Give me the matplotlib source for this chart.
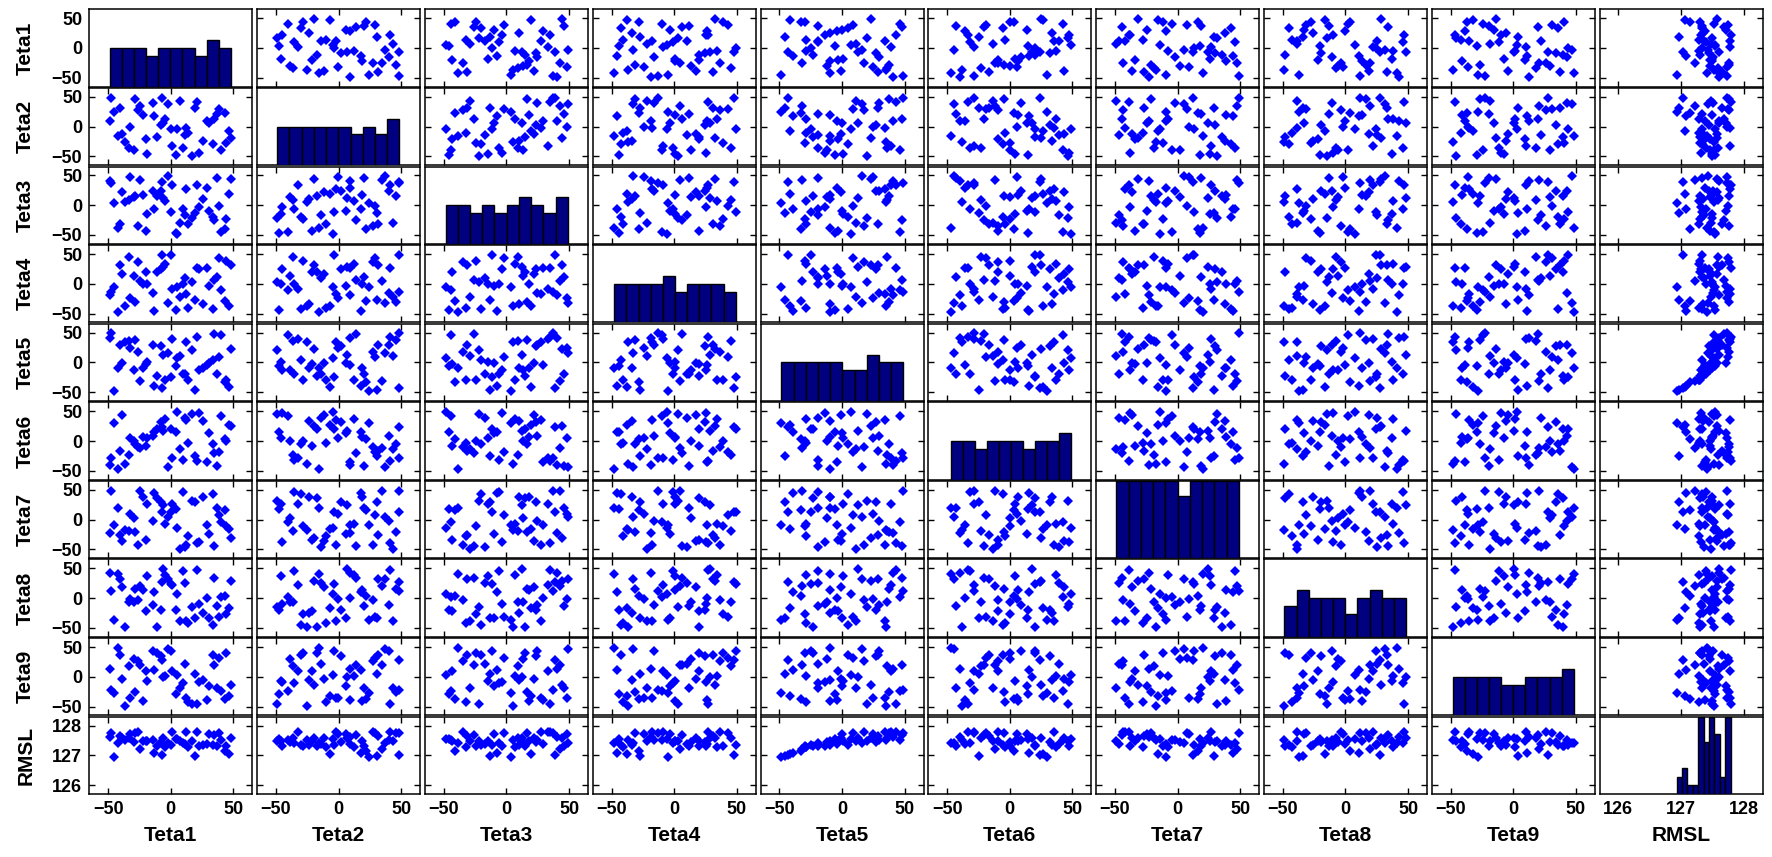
import matplotlib
matplotlib.use("Agg")
import matplotlib.pyplot as plt


names = ["Teta1", "Teta2", "Teta3", "Teta4", "Teta5",
         "Teta6", "Teta7", "Teta8", "Teta9", "RMSL"]

# samples listed in increasing Teta1 order
teta1 = [-48.7, -47.6, -45.0, -42.4, -40.8, -38.9, -36.3, -33.7, -32.4, -29.7,
         -28.4, -25.8, -24.5, -22.4, -20.0, -18.7, -14.4, -13.4, -11.3, -8.2,
         -7.4, -6.6, -4.7, -2.6, -0.2, 1.3, 3.9, 5.0, 7.1, 9.5,
         11.0, 12.4, 13.7, 16.6, 19.2, 21.1, 22.1, 25.5, 28.8, 30.3,
         33.4, 34.7, 36.6, 38.2, 40.0, 43.4, 44.4, 46.6, 47.9]
teta2 = [8.9, 48.5, 24.4, -15.6, 31.7, -11.7, -25.6, -36.7, -0.5, -38.9,
         45.6, 27.8, 34.4, 18.9, -21.1, -45.6, 40.0, 17.5, -17.0, 2.2,
         47.8, 6.7, 12.2, 37.2, -3.3, -32.2, -47.8, -4.4, 43.3, -35.5,
         -14.4, -1.7, -10.0, -48.9, 30.5, 41.1, -45.0, -23.9, 9.4, 5.6,
         -29.8, 13.5, 20.5, 29.0, -40.0, 22.2, -28.0, -7.2, -19.9]
teta3 = [40.0, 37.2, 3.9, -38.5, -31.1, 22.2, 5.6, 9.4, 48.0, 13.3,
         16.1, -35.0, 42.8, 17.8, -43.3, -14.4, 24.4, -7.2, 15.0, 23.5,
         39.0, 12.2, 6.7, 49.0, -11.1, 33.3, -46.1, -48.5, -29.2, -6.0,
         -16.7, 27.8, -32.2, -22.2, -12.8, 34.4, -3.3, 9.8, 29.3, -9.7,
         -20.0, -25.5, 45.6, -1.7, -44.5, -40.6, -24.0, 19.5, 44.0]
teta4 = [-18.9, -13.3, -5.0, -47.8, 31.1, 17.2, -36.7, 45.0, -24.4, 13.3,
         -31.1, 36.7, 4.4, 0.5, 19.5, 0.3, -16.1, -45.6, 19.8, 24.4,
         47.8, 28.3, 33.9, -32.8, 49.0, -9.3, -43.9, -6.0, -21.7, -1.1,
         10.0, -17.8, -41.1, 3.2, -27.2, 27.2, 25.6, -34.0, 26.0, -3.3,
         -42.5, 6.1, 11.7, 43.3, -10.0, -28.2, 39.0, -38.0, 32.2]
teta5 = [40.6, 49.0, -48.3, -9.4, 29.0, -1.1, 35.0, 36.1, 25.0, -12.2,
         37.8, 17.2, -31.7, -9.5, -2.8, 0.6, 29.3, -38.8, -23.3, 27.5,
         -42.8, 12.8, -29.0, 15.6, -25.0, 38.9, -5.5, 7.2, 11.5, -19.3,
         -19.4, 34.5, -28.9, 20.0, -45.6, 43.3, -13.5, -9.6, -4.0, -0.2,
         4.4, 48.0, -19.5, 8.5, 46.1, -32.8, -29.3, -41.5, 22.8]
teta6 = [-40.0, -28.3, 29.4, -47.2, -16.7, 43.3, -37.8, -23.3, 5.6, 0.0,
         -4.4, -9.4, -12.2, 6.5, -9.1, 4.5, 8.9, 15.6, 20.0, 32.2,
         23.9, 17.5, 36.7, -44.4, 20.2, -28.9, 14.5, 48.5, -13.3, -31.7,
         39.2, 35.0, -3.9, 46.1, -24.4, -33.3, 47.0, 34.0, -36.0, 13.9,
         -5.6, -20.6, -42.8, -18.7, 42.2, 3.3, 0.4, 26.7, 25.0]
teta7 = [-22.8, 48.8, -8.9, 20.0, -26.7, -36.7, -17.2, -18.9, 9.4, 2.2,
         -21.1, -43.3, 47.2, 38.3, -33.9, 25.6, -2.2, 43.9, 35.6, 30.0,
         12.2, 24.5, -7.8, 5.0, 13.3, 26.5, 17.8, -14.4, -48.9, 46.0,
         -46.7, -42.2, -27.5, 31.1, 29.0, -38.9, -37.8, 37.5, -9.5, -24.4,
         42.5, -44.5, 18.9, 7.8, -4.4, 16.1, -11.5, -15.5, -31.5]
teta8 = [42.8, 11.7, -36.7, 41.1, 32.8, 18.9, -48.6, -7.2, -1.7, -6.1,
         16.1, -3.5, 20.0, 13.3, -21.7, 37.2, -10.6, 10.6, -47.8, -19.7,
         27.2, 48.3, 38.3, 31.7, 24.4, 22.0, -20.0, 7.8, -38.3, 46.1,
         25.5, -38.7, -42.2, -14.4, -33.9, 47.0, -10.0, -25.6, -0.4, -32.8,
         -45.0, 33.9, -12.8, -31.1, 2.0, 3.9, -27.2, -16.1, 28.7]
teta9 = [12.8, -22.2, -27.8, 48.3, 37.2, -3.9, -48.3, 18.3, -36.1, 29.4,
         -26.1, 26.1, 20.6, -40.6, 9.8, -7.2, 42.8, 11.1, 39.4, 34.5,
         27.8, 0.3, 1.2, 46.5, 44.0, 9.9, -28.8, 2.8, -18.8, -11.1,
         22.2, -35.0, -42.0, -45.5, 4.2, -46.5, -9.4, -6.0, -38.4, -15.0,
         36.1, 19.4, -19.0, 31.0, -23.9, -37.2, 40.5, -32.0, -13.9]
# RMSL follows Teta5 (rising branch below Teta5 ~ -10, flat band above)
rmsl = [127.61, 127.74, 126.93, 127.42, 127.65, 127.58, 127.52, 127.59, 127.73, 127.46,
        127.76, 127.77, 127.22, 127.49, 127.47, 127.49, 127.51, 127.08, 127.30, 127.44,
        127.03, 127.60, 127.29, 127.43, 127.34, 127.785, 127.54, 127.55, 127.48, 127.40,
        127.37, 127.78, 127.28, 127.50, 126.97, 127.79, 127.32, 127.35, 127.39, 127.72,
        127.34, 127.68, 127.33, 127.75, 127.52, 127.14, 127.31, 127.06, 127.57]

data = [teta1, teta2, teta3, teta4, teta5, teta6, teta7, teta8, teta9, rmsl]

teta_ticks = [-50, 0, 50]
rmsl_ticks = [126, 127, 128]

plt.rcParams["font.family"] = ["Liberation Sans", "DejaVu Sans"]
plt.rcParams["font.weight"] = "bold"

W, H = 1772, 857
fig = plt.figure(figsize=(W / 100, H / 100), dpi=100)

left0, top0 = 89.3, 9.3
cw, ch = 163.0, 77.4
cstep, rstep = 167.8, 78.6
n = len(names)


def limits(k):
    if names[k] == "RMSL":
        return (125.7, 128.3), rmsl_ticks
    return (-65, 65), teta_ticks


for i in range(n):
    for j in range(n):
        x0 = left0 + j * cstep
        y0 = top0 + i * rstep
        rect = [x0 / W, 1 - (y0 + ch) / H, cw / W, ch / H]
        ax = fig.add_axes(rect)
        xl, xt = limits(j)
        yl, yt = limits(i)
        ax.set_xlim(xl)
        ax.set_ylim(yl)
        ax.set_xticks(xt)
        ax.set_yticks(yt)
        for s in ax.spines.values():
            s.set_linewidth(1.1)
        ax.tick_params(direction="in", top=True, right=True, length=4,
                       width=1, labelsize=13, pad=5,
                       labelbottom=(i == n - 1), labelleft=(j == 0))
        if i == j:
            ax.tick_params(length=0)
            hax = fig.add_axes(rect)
            hax.patch.set_visible(False)
            counts, _, _ = hax.hist(data[i], bins=10, color=(0, 0, 0.5),
                                    edgecolor="black", linewidth=1.0)
            top = max(counts) if i in (6, 9) else 10
            hax.set_xlim(xl)
            hax.set_ylim(0, top)
            hax.axis("off")
        else:
            ax.plot(data[j], data[i], "D", color=(0, 0, 1), markersize=4.6,
                    markeredgewidth=0, linestyle="none")
        if i == n - 1:
            ax.set_xlabel(names[j], fontsize=15, fontweight="bold", labelpad=6)
        if j == 0:
            ax.set_ylabel(names[i], fontsize=15, fontweight="bold", labelpad=12)

fig.savefig("out.png", dpi=100)
